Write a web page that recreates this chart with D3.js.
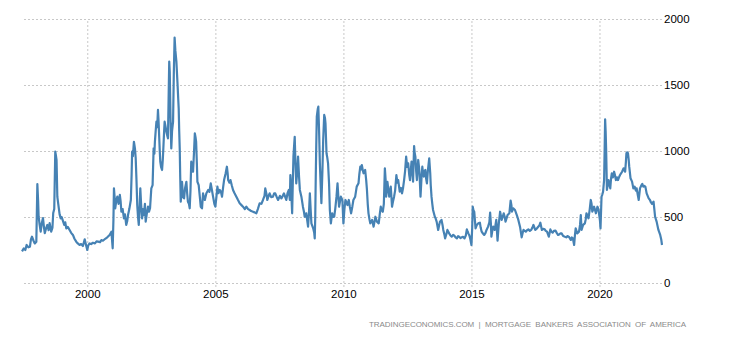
<!DOCTYPE html>
<html>
<head>
<meta charset="utf-8">
<script src="https://cdn.jsdelivr.net/npm/d3@7"></script>
<style>
  body { margin: 0; background: #fff; }
  .axis text { font-family: "Liberation Sans", Arial, sans-serif; font-size: 11.5px; fill: #000; }
  .axis .domain { display: none; }
  .axis line { stroke: #c8c8c8; stroke-dasharray: 2,2; }
  .source { font-family: "Liberation Sans", Arial, sans-serif; font-size: 8px; fill: #8a8a8a; }
</style>
</head>
<body>
<svg id="chart"></svg>
<script>
// MBA mortgage refinance index, weekly-ish [decimal year, index]
const refiSeries = [
  [1997.45, 240], [1997.52, 262], [1997.58, 250], [1997.63, 288], [1997.70, 270], [1997.76, 275], [1997.80, 330],
  [1997.84, 351], [1997.90, 320], [1997.95, 300], [1998.01, 313], [1998.05, 750], [1998.08, 620], [1998.10, 502],
  [1998.14, 440], [1998.18, 389], [1998.22, 450], [1998.27, 492], [1998.31, 420], [1998.34, 378], [1998.40, 420],
  [1998.44, 440], [1998.49, 400], [1998.53, 454], [1998.59, 389], [1998.64, 420], [1998.67, 530], [1998.71, 560],
  [1998.75, 995], [1998.78, 960], [1998.80, 932], [1998.83, 654], [1998.88, 578], [1998.92, 520], [1998.96, 490],
  [1999.00, 500], [1999.05, 470], [1999.10, 440], [1999.14, 460], [1999.18, 414], [1999.24, 425], [1999.31, 402],
  [1999.37, 380], [1999.44, 364], [1999.50, 335], [1999.57, 313], [1999.63, 300], [1999.70, 288], [1999.76, 295],
  [1999.83, 280], [1999.90, 331], [1999.95, 290], [2000.00, 250], [2000.04, 285], [2000.09, 300], [2000.15, 295],
  [2000.22, 305], [2000.30, 300], [2000.36, 315], [2000.42, 313], [2000.50, 310], [2000.55, 325], [2000.61, 320],
  [2000.70, 335], [2000.78, 346], [2000.87, 364], [2000.94, 389], [2000.99, 263], [2001.02, 480], [2001.04, 717],
  [2001.07, 640], [2001.09, 566], [2001.13, 620], [2001.17, 654], [2001.22, 600], [2001.27, 667], [2001.30, 620],
  [2001.33, 540], [2001.38, 560], [2001.43, 490], [2001.47, 520], [2001.52, 440], [2001.56, 470], [2001.59, 515],
  [2001.64, 560], [2001.70, 629], [2001.73, 820], [2001.75, 995], [2001.78, 960], [2001.82, 1070], [2001.86, 1020],
  [2001.89, 944], [2001.92, 780], [2001.95, 591], [2001.98, 500], [2002.01, 440], [2002.04, 560], [2002.07, 717],
  [2002.10, 600], [2002.14, 490], [2002.17, 560], [2002.21, 515], [2002.25, 600], [2002.28, 465], [2002.32, 520],
  [2002.37, 578], [2002.41, 540], [2002.45, 566], [2002.50, 717], [2002.55, 742], [2002.59, 1020], [2002.62, 980],
  [2002.64, 1070], [2002.67, 1150], [2002.70, 1222], [2002.73, 1180], [2002.76, 1311], [2002.78, 1240], [2002.80, 1146],
  [2002.83, 1000], [2002.85, 919], [2002.88, 880], [2002.92, 856], [2002.95, 940], [2002.97, 1020], [2003.00, 1150],
  [2003.02, 1222], [2003.06, 1180], [2003.09, 1146], [2003.12, 1120], [2003.15, 1096], [2003.18, 1450], [2003.20, 1677],
  [2003.22, 1600], [2003.25, 1250], [2003.28, 1020], [2003.31, 1150], [2003.35, 1222], [2003.38, 1600], [2003.41, 1859],
  [2003.44, 1760], [2003.48, 1677], [2003.52, 1525], [2003.55, 1400], [2003.57, 1323], [2003.59, 1150], [2003.61, 1020],
  [2003.63, 800], [2003.65, 616], [2003.68, 700], [2003.70, 767], [2003.74, 650], [2003.78, 641], [2003.82, 720],
  [2003.87, 767], [2003.90, 680], [2003.93, 616], [2003.97, 600], [2004.00, 566], [2004.03, 700], [2004.06, 919],
  [2004.10, 880], [2004.13, 843], [2004.17, 1000], [2004.20, 1134], [2004.23, 1100], [2004.25, 1070], [2004.28, 900],
  [2004.30, 767], [2004.35, 742], [2004.40, 641], [2004.43, 578], [2004.48, 566], [2004.52, 679], [2004.56, 640],
  [2004.59, 629], [2004.65, 680], [2004.72, 705], [2004.77, 690], [2004.82, 755], [2004.87, 700], [2004.91, 654],
  [2004.96, 600], [2005.00, 578], [2005.04, 650], [2005.08, 730], [2005.12, 680], [2005.17, 705], [2005.22, 690],
  [2005.26, 654], [2005.30, 720], [2005.34, 780], [2005.40, 830], [2005.45, 881], [2005.48, 830], [2005.50, 780],
  [2005.55, 760], [2005.59, 780], [2005.64, 740], [2005.69, 705], [2005.75, 680], [2005.82, 654], [2005.88, 630],
  [2005.95, 604], [2006.02, 590], [2006.08, 578], [2006.15, 560], [2006.21, 578], [2006.28, 560], [2006.34, 553],
  [2006.40, 545], [2006.47, 540], [2006.53, 535], [2006.60, 528], [2006.66, 560], [2006.73, 604], [2006.80, 600],
  [2006.86, 629], [2006.92, 660], [2006.95, 717], [2007.00, 670], [2007.03, 629], [2007.08, 660], [2007.12, 679],
  [2007.18, 650], [2007.25, 654], [2007.30, 680], [2007.34, 679], [2007.40, 650], [2007.45, 629], [2007.52, 660],
  [2007.58, 641], [2007.63, 660], [2007.68, 679], [2007.73, 650], [2007.77, 629], [2007.82, 680], [2007.87, 705],
  [2007.91, 629], [2007.93, 818], [2007.95, 760], [2008.00, 528], [2008.03, 800], [2008.05, 957], [2008.08, 1050],
  [2008.10, 1108], [2008.13, 900], [2008.16, 755], [2008.20, 850], [2008.23, 957], [2008.27, 800], [2008.30, 705],
  [2008.36, 654], [2008.42, 578], [2008.46, 540], [2008.49, 502], [2008.55, 528], [2008.59, 470], [2008.62, 427],
  [2008.66, 550], [2008.69, 679], [2008.72, 560], [2008.75, 452], [2008.82, 414], [2008.86, 380], [2008.88, 338],
  [2008.90, 500], [2008.92, 806], [2008.94, 1050], [2008.96, 1260], [2009.00, 1320], [2009.02, 1336], [2009.05, 1150],
  [2009.08, 907], [2009.11, 750], [2009.14, 604], [2009.18, 850], [2009.21, 1083], [2009.25, 1273], [2009.28, 1250],
  [2009.30, 1210], [2009.34, 983], [2009.37, 950], [2009.40, 907], [2009.44, 750], [2009.47, 553], [2009.51, 452],
  [2009.56, 528], [2009.60, 500], [2009.64, 502], [2009.68, 560], [2009.73, 654], [2009.77, 755], [2009.80, 660],
  [2009.83, 578], [2009.87, 620], [2009.90, 654], [2009.96, 629], [2010.00, 452], [2010.04, 560], [2010.08, 629],
  [2010.12, 610], [2010.16, 591], [2010.21, 629], [2010.25, 580], [2010.30, 528], [2010.35, 580], [2010.39, 629],
  [2010.46, 654], [2010.52, 730], [2010.59, 755], [2010.62, 820], [2010.66, 881], [2010.70, 860], [2010.72, 894],
  [2010.76, 850], [2010.79, 831], [2010.85, 856], [2010.89, 780], [2010.92, 705], [2010.95, 600], [2010.98, 528],
  [2011.02, 480], [2011.05, 452], [2011.12, 478], [2011.18, 427], [2011.25, 502], [2011.31, 465], [2011.38, 452],
  [2011.42, 520], [2011.46, 578], [2011.50, 550], [2011.54, 540], [2011.58, 600], [2011.62, 869], [2011.65, 780],
  [2011.67, 654], [2011.72, 767], [2011.76, 700], [2011.79, 654], [2011.85, 730], [2011.90, 578], [2011.94, 620],
  [2011.98, 654], [2012.02, 700], [2012.07, 818], [2012.11, 760], [2012.14, 780], [2012.20, 692], [2012.25, 720],
  [2012.29, 679], [2012.33, 720], [2012.37, 780], [2012.41, 850], [2012.45, 957], [2012.49, 880], [2012.53, 907],
  [2012.57, 820], [2012.60, 780], [2012.66, 919], [2012.69, 850], [2012.72, 767], [2012.76, 1038], [2012.78, 990],
  [2012.81, 957], [2012.84, 850], [2012.87, 780], [2012.92, 932], [2012.95, 880], [2012.97, 831], [2013.01, 654],
  [2013.05, 800], [2013.08, 881], [2013.11, 830], [2013.14, 806], [2013.17, 850], [2013.20, 856], [2013.23, 790],
  [2013.26, 755], [2013.30, 856], [2013.35, 944], [2013.39, 831], [2013.41, 740], [2013.44, 654], [2013.47, 600],
  [2013.50, 553], [2013.57, 502], [2013.60, 490], [2013.64, 465], [2013.70, 402], [2013.73, 430], [2013.77, 465],
  [2013.83, 478], [2013.87, 440], [2013.90, 402], [2013.94, 370], [2013.97, 338], [2014.02, 370], [2014.06, 402],
  [2014.13, 376], [2014.18, 360], [2014.23, 351], [2014.29, 365], [2014.34, 356], [2014.38, 345], [2014.43, 338],
  [2014.48, 355], [2014.52, 351], [2014.57, 340], [2014.62, 346], [2014.67, 350], [2014.73, 338], [2014.78, 360],
  [2014.82, 406], [2014.85, 390], [2014.88, 376], [2014.92, 360], [2014.95, 338], [2015.00, 288], [2015.03, 420],
  [2015.05, 578], [2015.08, 550], [2015.11, 540], [2015.16, 414], [2015.21, 440], [2015.27, 452], [2015.33, 457],
  [2015.36, 420], [2015.40, 389], [2015.45, 375], [2015.50, 364], [2015.55, 380], [2015.59, 402], [2015.65, 427],
  [2015.70, 460], [2015.73, 533], [2015.76, 450], [2015.78, 351], [2015.82, 400], [2015.85, 427], [2015.91, 402],
  [2015.97, 478], [2016.02, 321], [2016.05, 400], [2016.07, 452], [2016.12, 540], [2016.15, 510], [2016.18, 478],
  [2016.22, 500], [2016.26, 528], [2016.30, 500], [2016.33, 465], [2016.37, 490], [2016.41, 515], [2016.48, 528],
  [2016.53, 624], [2016.56, 590], [2016.58, 540], [2016.63, 566], [2016.70, 553], [2016.77, 515], [2016.83, 478],
  [2016.90, 422], [2016.96, 346], [2017.00, 380], [2017.03, 402], [2017.08, 395], [2017.12, 389], [2017.17, 400],
  [2017.22, 406], [2017.28, 395], [2017.33, 402], [2017.38, 420], [2017.42, 440], [2017.49, 402], [2017.54, 410],
  [2017.59, 422], [2017.65, 435], [2017.69, 457], [2017.75, 402], [2017.80, 410], [2017.86, 406], [2017.90, 395],
  [2017.95, 389], [2018.02, 351], [2018.08, 406], [2018.12, 390], [2018.17, 381], [2018.22, 395], [2018.28, 397],
  [2018.33, 380], [2018.38, 364], [2018.44, 370], [2018.48, 376], [2018.52, 376], [2018.58, 356], [2018.65, 350],
  [2018.70, 346], [2018.75, 355], [2018.80, 351], [2018.84, 340], [2018.88, 326], [2018.92, 345], [2018.96, 338],
  [2019.01, 288], [2019.04, 360], [2019.07, 414], [2019.10, 395], [2019.13, 376], [2019.20, 389], [2019.24, 440],
  [2019.27, 515], [2019.30, 402], [2019.36, 440], [2019.43, 452], [2019.46, 480], [2019.49, 528], [2019.53, 510],
  [2019.57, 490], [2019.62, 560], [2019.66, 629], [2019.69, 600], [2019.72, 540], [2019.76, 560], [2019.79, 578],
  [2019.86, 528], [2019.92, 578], [2019.96, 560], [2019.99, 515], [2020.02, 470], [2020.04, 414], [2020.08, 654],
  [2020.11, 670], [2020.14, 692], [2020.18, 780], [2020.20, 1000], [2020.22, 1240], [2020.24, 1150], [2020.26, 1008],
  [2020.29, 705], [2020.32, 740], [2020.35, 780], [2020.42, 717], [2020.45, 790], [2020.48, 831], [2020.52, 800],
  [2020.57, 843], [2020.60, 820], [2020.64, 780], [2020.68, 800], [2020.72, 780], [2020.76, 800], [2020.80, 818],
  [2020.84, 830], [2020.88, 843], [2020.94, 869], [2021.00, 843], [2021.03, 920], [2021.05, 983], [2021.08, 990],
  [2021.11, 983], [2021.14, 930], [2021.16, 881], [2021.21, 793], [2021.27, 768], [2021.32, 717], [2021.37, 730],
  [2021.42, 700], [2021.45, 717], [2021.50, 660], [2021.53, 629], [2021.58, 717], [2021.64, 742], [2021.67, 750],
  [2021.71, 730], [2021.75, 735], [2021.79, 730], [2021.84, 679], [2021.92, 641], [2021.97, 629], [2022.01, 610],
  [2022.05, 599], [2022.11, 616], [2022.14, 560], [2022.17, 502], [2022.23, 465], [2022.30, 402], [2022.37, 364],
  [2022.41, 330], [2022.44, 288]
];

const xTickYears = [2000, 2005, 2010, 2015, 2020];
const yTickValues = [0, 500, 1000, 1500, 2000];
const sourceText = 'TRADINGECONOMICS.COM  |  MORTGAGE  BANKERS  ASSOCIATION  OF  AMERICA';

const width = 730, height = 340;
const margin = { top: 19, right: 68, bottom: 57, left: 22 };

// decimal year -> Date
function toDate(t) {
    const y = Math.floor(t);
    const start = new Date(y, 0, 1), end = new Date(y + 1, 0, 1);
    return new Date(+start + (t - y) * (end - start));
}

const data = refiSeries.map(d => ({ date: toDate(d[0]), value: d[1] }));

const svg = d3.select('#chart')
    .attr('width', width)
    .attr('height', height);

const xScale = d3.scaleTime()
    .domain(d3.extent(data, d => d.date))
    .range([margin.left, width - margin.right]);

const yScale = d3.scaleLinear()
    .domain([0, 2000])
    .range([height - margin.bottom, margin.top]);

const plotW = width - margin.left - margin.right;
const plotH = height - margin.top - margin.bottom;

// y gridlines + labels on the right
const yAxis = d3.axisRight(yScale)
    .tickValues(yTickValues)
    .tickFormat(d3.format('d'))
    .tickSize(-plotW)
    .tickPadding(2);

svg.append('g')
    .attr('class', 'axis y-axis')
    .attr('transform', `translate(${width - margin.right},0)`)
    .call(yAxis);

// x gridlines + year labels
const xAxis = d3.axisBottom(xScale)
    .tickValues(xTickYears.map(y => new Date(y, 0, 1)))
    .tickFormat(d3.timeFormat('%Y'))
    .tickSize(-(plotH + 4))
    .tickPadding(3);

svg.append('g')
    .attr('class', 'axis x-axis')
    .attr('transform', `translate(0,${height - margin.bottom + 4})`)
    .call(xAxis);

const line = d3.line()
    .x(d => xScale(d.date))
    .y(d => yScale(d.value));

svg.append('path')
    .datum(data)
    .attr('fill', 'none')
    .attr('stroke', '#4682b4')
    .attr('stroke-width', 2.2)
    .attr('stroke-linejoin', 'round')
    .attr('d', line);

svg.append('text')
    .attr('class', 'source')
    .attr('x', 369)
    .attr('y', 327)
    .attr('textLength', 317)
    .attr('lengthAdjust', 'spacing')
    .attr('xml:space', 'preserve')
    .style('white-space', 'pre')
    .text(sourceText);
</script>
</body>
</html>
